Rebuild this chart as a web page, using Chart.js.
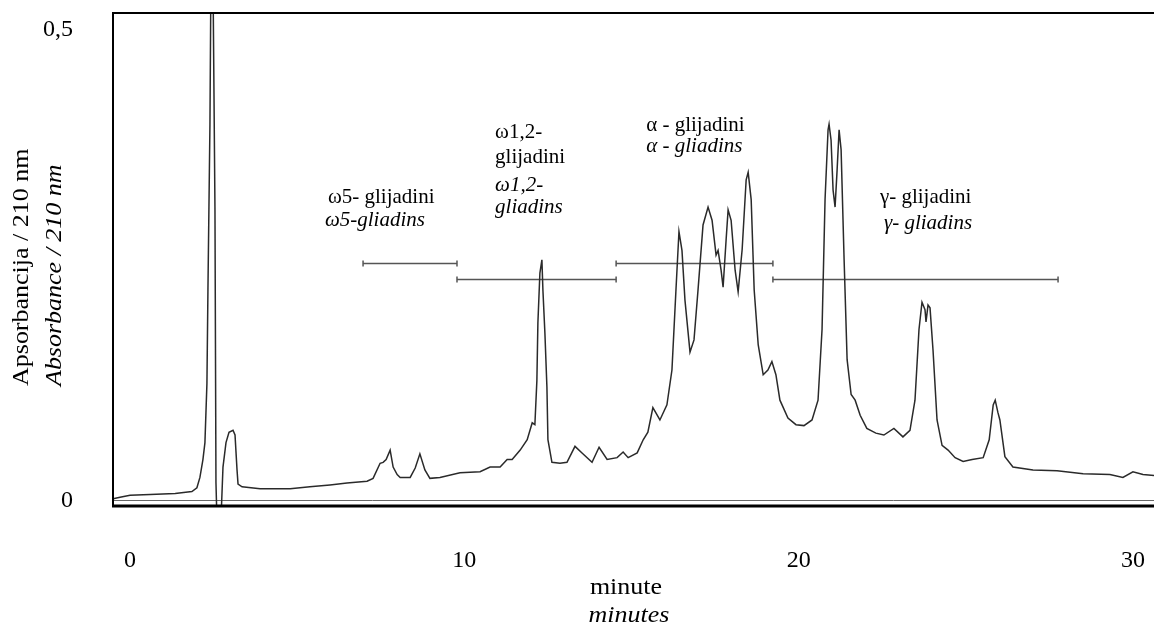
<!DOCTYPE html>
<html>
<head>
<meta charset="utf-8">
<script src="https://cdn.jsdelivr.net/npm/chart.js@4.4.1/dist/chart.umd.min.js"></script>
<style>
html, body { margin:0; padding:0; background:#fff; }
</style>
</head>
<body>
<canvas id="GraficoGlijadini" width="1154" height="630"></canvas>
<script>
// tiempo en minutos
var tiempo = [
	-0.54, -0.30, 0.00, 0.60, 1.35, 1.85, 2.00, 2.09, 2.18, 2.24, 2.30, 2.33, 2.39, 2.42, 2.48, 2.54, 2.57, 2.60, 2.72, 2.78,
	2.87, 2.96, 3.08, 3.14, 3.20, 3.23, 3.35, 3.89, 4.79, 5.38, 5.98, 6.49, 7.09, 7.27, 7.48, 7.57, 7.66, 7.78, 7.87, 7.99,
	8.08, 8.38, 8.53, 8.67, 8.82, 8.97, 9.27, 9.87, 10.47, 10.77, 11.07, 11.28, 11.43, 11.67, 11.88, 12.03, 12.11, 12.17, 12.20, 12.26,
	12.32, 12.35, 12.41, 12.47, 12.50, 12.62, 12.86, 13.07, 13.31, 13.52, 13.82, 14.03, 14.27, 14.57, 14.75, 14.90, 15.17, 15.35, 15.49, 15.64,
	15.85, 16.06, 16.21, 16.33, 16.42, 16.51, 16.60, 16.75, 16.87, 16.99, 17.14, 17.29, 17.41, 17.53, 17.59, 17.68, 17.74, 17.83, 17.89, 17.98,
	18.10, 18.19, 18.31, 18.43, 18.49, 18.58, 18.67, 18.79, 18.94, 19.08, 19.20, 19.32, 19.44, 19.68, 19.92, 20.16, 20.40, 20.58, 20.70, 20.79,
	20.88, 20.91, 20.97, 21.03, 21.09, 21.15, 21.21, 21.27, 21.36, 21.45, 21.57, 21.69, 21.84, 22.04, 22.31, 22.55, 22.85, 23.12, 23.33, 23.48,
	23.60, 23.69, 23.78, 23.81, 23.87, 23.93, 24.02, 24.14, 24.29, 24.47, 24.68, 24.92, 25.19, 25.52, 25.70, 25.82, 25.88, 25.96, 26.02, 26.17,
	26.41, 27.01, 27.73, 28.51, 29.31, 29.70, 30.00, 30.30, 30.63
];
// absorbancia a 210 nm
var absorbancia = [
	0.002, 0.004, 0.006, 0.007, 0.008, 0.010, 0.014, 0.025, 0.044, 0.062, 0.125, 0.224, 0.400, 0.560, 0.560, 0.310, 0.019, -0.020, -0.020, 0.036,
	0.062, 0.073, 0.075, 0.070, 0.033, 0.018, 0.015, 0.013, 0.013, 0.015, 0.017, 0.019, 0.021, 0.024, 0.040, 0.041, 0.044, 0.054, 0.036, 0.028,
	0.025, 0.025, 0.035, 0.050, 0.033, 0.024, 0.025, 0.030, 0.031, 0.036, 0.036, 0.044, 0.044, 0.054, 0.065, 0.083, 0.081, 0.128, 0.189, 0.242,
	0.256, 0.224, 0.178, 0.121, 0.065, 0.041, 0.040, 0.041, 0.058, 0.051, 0.041, 0.057, 0.044, 0.046, 0.052, 0.046, 0.051, 0.065, 0.073, 0.099,
	0.086, 0.102, 0.139, 0.224, 0.286, 0.266, 0.213, 0.158, 0.171, 0.224, 0.293, 0.312, 0.298, 0.261, 0.266, 0.245, 0.227, 0.277, 0.309, 0.298,
	0.245, 0.222, 0.267, 0.341, 0.349, 0.320, 0.224, 0.166, 0.134, 0.139, 0.148, 0.134, 0.107, 0.088, 0.081, 0.080, 0.086, 0.107, 0.182, 0.320,
	0.394, 0.400, 0.383, 0.330, 0.312, 0.351, 0.394, 0.373, 0.256, 0.150, 0.113, 0.107, 0.091, 0.077, 0.072, 0.070, 0.077, 0.068, 0.075, 0.107,
	0.182, 0.211, 0.203, 0.190, 0.208, 0.205, 0.160, 0.086, 0.059, 0.054, 0.046, 0.042, 0.044, 0.046, 0.065, 0.102, 0.107, 0.094, 0.086, 0.047,
	0.036, 0.033, 0.032, 0.029, 0.028, 0.025, 0.031, 0.028, 0.027
];
var ticksX = [0, 10, 20, 30];
var ticksY = [0, 0.5];
// rangos de las fracciones
var grupoDesde = [6.97, 9.78, 14.54, 19.23];
var grupoHasta = [9.78, 14.54, 19.23, 27.76];
var grupoNivel = [0.252, 0.235, 0.252, 0.235];

// textos de las fracciones (posicion en minutos / absorbancia)
var textos = [
	{t: 5.92, v: 0.322, txt: 'ω5- glijadini', it: false},
	{t: 5.83, v: 0.298, txt: 'ω5-gliadins', it: true},
	{t: 10.92, v: 0.391, txt: 'ω1,2-', it: false},
	{t: 10.92, v: 0.365, txt: 'glijadini', it: false},
	{t: 10.92, v: 0.335, txt: 'ω1,2-', it: true},
	{t: 10.92, v: 0.312, txt: 'gliadins', it: true},
	{t: 15.44, v: 0.399, txt: 'α - glijadini', it: false},
	{t: 15.44, v: 0.376, txt: 'α - gliadins', it: true},
	{t: 22.43, v: 0.322, txt: 'γ- glijadini', it: false},
	{t: 22.55, v: 0.295, txt: 'γ- gliadins', it: true}
];

var FUENTE = '"Liberation Serif", "Times New Roman", serif';

// texto algo estirado a lo largo, como en el original
function textoAncho(ctx, txt, x, y, font) {
	ctx.save();
	ctx.font = font;
	ctx.translate(x, y);
	ctx.scale(1.13, 1);
	ctx.fillText(txt, 0, 0);
	ctx.restore();
}

const etiquetas = {
	id: 'etiquetas',
	afterDraw(chart) {
		const ctx = chart.ctx, a = chart.chartArea;
		const sx = chart.scales.x, sy = chart.scales.y;
		ctx.save();
		// marco
		ctx.strokeStyle = '#000';
		ctx.lineWidth = 2;
		ctx.beginPath();
		ctx.moveTo(a.left + 1, a.bottom);
		ctx.lineTo(a.left + 1, a.top + 1);
		ctx.lineTo(a.right, a.top + 1);
		ctx.stroke();
		ctx.lineWidth = 3;
		ctx.beginPath();
		ctx.moveTo(a.left, a.bottom - 1);
		ctx.lineTo(a.right, a.bottom - 1);
		ctx.stroke();
		// textos
		ctx.fillStyle = '#000';
		ctx.textAlign = 'left';
		ctx.textBaseline = 'middle';
		textos.forEach(function(e){
			ctx.font = (e.it ? 'italic ' : '') + '21px ' + FUENTE;
			ctx.fillText(e.txt, sx.getPixelForValue(e.t), sy.getPixelForValue(e.v));
		});
		// titulo eje x
		ctx.textAlign = 'center';
		textoAncho(ctx, 'minute', 626, 588, '23px ' + FUENTE);
		textoAncho(ctx, 'minutes', 629, 616, 'italic 23px ' + FUENTE);
		// titulo eje y
		ctx.translate(0, 386);
		ctx.rotate(-Math.PI / 2);
		ctx.textAlign = 'left';
		textoAncho(ctx, 'Apsorbancija / 210 nm', 0, 22, '23px ' + FUENTE);
		textoAncho(ctx, 'Absorbance / 210 nm', 0, 55, 'italic 23px ' + FUENTE);
		ctx.restore();
	}
};

function sinPadding(s) {
	s.paddingTop = 0;
	s.paddingBottom = 0;
	s.paddingLeft = 0;
	s.paddingRight = 0;
}

var datasets = [{
	data: tiempo.map(function(t, i){ return {x: t, y: absorbancia[i]}; }),
	borderColor: '#2a2a2a',
	borderWidth: 1.5,
	pointRadius: 0
}];
for (var i = 0; i < grupoDesde.length; i++) {
	datasets.push({
		data: [{x: grupoDesde[i], y: grupoNivel[i]}, {x: grupoHasta[i], y: grupoNivel[i]}],
		borderColor: '#555',
		borderWidth: 1.5,
		pointStyle: 'line',
		pointRotation: 90,
		pointRadius: 3,
		pointBorderColor: '#555',
		pointBorderWidth: 1.5
	});
}

new Chart('GraficoGlijadini', {
	type: 'line',
	data: { datasets: datasets },
	options: {
		responsive: false,
		animation: false,
		layout: { autoPadding: false, padding: { top: 12, left: 0, right: 0, bottom: 0 } },
		plugins: { legend: { display: false }, tooltip: { enabled: false } },
		scales: {
			x: {
				type: 'linear',
				min: -0.54,
				max: 30.63,
				afterBuildTicks: function(s){ s.ticks = ticksX.map(function(v){ return {value: v}; }); },
				afterFit: function(s){ s.height = 123; sinPadding(s); },
				grid: { display: false, drawTicks: false },
				border: { display: false },
				ticks: { padding: 39, color: '#000', maxRotation: 0, font: { family: FUENTE, size: 24 } }
			},
			y: {
				min: -0.0064,
				max: 0.5191,
				afterBuildTicks: function(s){ s.ticks = ticksY.map(function(v){ return {value: v}; }); },
				afterFit: function(s){ s.width = 112; sinPadding(s); },
				grid: {
					drawTicks: false,
					color: function(c){ return c.tick && c.tick.value === 0 ? '#666' : 'rgba(0,0,0,0)'; }
				},
				border: { display: false },
				ticks: {
					padding: 39,
					color: '#000',
					font: { family: FUENTE, size: 24 },
					callback: function(v){ return String(v).replace('.', ','); }
				}
			}
		}
	},
	plugins: [etiquetas]
});
</script>
</body>
</html>
